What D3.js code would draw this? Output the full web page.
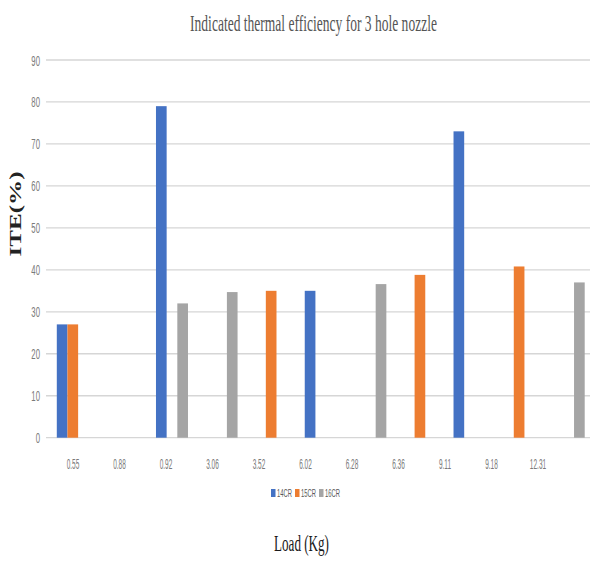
<!DOCTYPE html>
<html>
<head>
<meta charset="utf-8">
<script src="https://cdn.jsdelivr.net/npm/d3@7"></script>
<style>
  html, body { margin: 0; padding: 0; background: #fff; }
  svg { display: block; }
</style>
</head>
<body>
<svg id="chart" width="590" height="563"></svg>
<script>
// Load categories (kg) along the x axis
const loads = ["0.55", "0.88", "0.92", "3.06", "3.52", "6.02", "6.28", "6.36", "9.11", "9.18", "12.31"];
// Indicated thermal efficiency (%) per compression ratio; null = no measurement
const cr14 = [27, null, 79, null, null, 35, null, null, 73, null, null];
const cr15 = [27, null, null, null, 35, null, null, 38.8, null, 40.8, null];
const cr16 = [null, null, 32, 34.7, null, null, 36.6, null, null, null, 37];
const seriesNames = ["14CR", "15CR", "16CR"];
const seriesColors = ["#4472C4", "#ED7D31", "#A5A5A5"];
const yTicks = [0, 10, 20, 30, 40, 50, 60, 70, 80, 90];

const series = [cr14, cr15, cr16];
const svg = d3.select("#chart");

const y = d3.scaleLinear().domain([0, 90]).range([437.7, 60]);
// slot scale for the bar groups
const x0 = d3.scaleBand().domain(loads).range([48, 593.5]);
const x1 = d3.scaleBand().domain(seriesNames).range([0, 32]);
// scale used for the category labels
const xLab = d3.scaleBand().domain(loads).range([49.75, 561.25]);

// squeeze a text element horizontally to a target width
function fitWidth(sel, target) {
  sel.each(function () {
    const w = this.getComputedTextLength();
    const t = d3.select(this);
    const x = +t.attr("data-x"), yy = +t.attr("data-y");
    t.attr("x", 0).attr("y", 0)
     .attr("transform", `translate(${x},${yy}) scale(${target / w},1)`);
  });
}
function squeeze(sel, k) {
  sel.each(function () {
    const t = d3.select(this);
    const x = +t.attr("data-x"), yy = +t.attr("data-y");
    t.attr("x", 0).attr("y", 0)
     .attr("transform", `translate(${x},${yy}) scale(${k},1)`);
  });
}

// gridlines
svg.append("g")
  .selectAll("line")
  .data(yTicks)
  .join("line")
  .attr("x1", 46).attr("x2", 590)
  .attr("y1", d => y(d)).attr("y2", d => y(d))
  .attr("stroke", "#d6d6d6").attr("stroke-width", 1.3);

// y tick labels
svg.append("g")
  .selectAll("text")
  .data(yTicks)
  .join("text")
  .attr("data-x", 40).attr("data-y", d => y(d) + 5.5)
  .attr("text-anchor", "end")
  .attr("font-family", "Liberation Sans, Arial, sans-serif")
  .attr("font-size", 15.5)
  .attr("fill", "#7a7a7a")
  .text(d => d)
  .call(squeeze, 0.5);

// bars
const bars = [];
series.forEach((vals, si) => {
  vals.forEach((v, i) => {
    if (v != null) bars.push({ load: loads[i], s: seriesNames[si], v, c: seriesColors[si] });
  });
});
svg.append("g")
  .selectAll("rect")
  .data(bars)
  .join("rect")
  .attr("x", d => x0(d.load) + x0.bandwidth() / 2 - 16 + x1(d.s))
  .attr("width", x1.bandwidth())
  .attr("y", d => y(d.v))
  .attr("height", d => y(0) - y(d.v))
  .attr("fill", d => d.c);

// x category labels
svg.append("g")
  .selectAll("text")
  .data(loads)
  .join("text")
  .attr("data-x", d => xLab(d) + xLab.bandwidth() / 2).attr("data-y", 469)
  .attr("text-anchor", "middle")
  .attr("font-family", "Liberation Sans, Arial, sans-serif")
  .attr("font-size", 15.5)
  .attr("fill", "#7a7a7a")
  .text(d => d)
  .call(squeeze, 0.42);

// title
svg.append("text")
  .attr("data-x", 313.5).attr("data-y", 31)
  .attr("text-anchor", "middle")
  .attr("font-family", "Liberation Serif, Times New Roman, serif")
  .attr("font-size", 24)
  .attr("fill", "#555")
  .text("Indicated thermal efficiency for 3 hole nozzle")
  .call(fitWidth, 247);

// y axis title
const yt = svg.append("text")
  .attr("text-anchor", "middle")
  .attr("font-family", "Liberation Serif, Times New Roman, serif")
  .attr("font-weight", "bold")
  .attr("font-size", 16.5)
  .attr("fill", "#222")
  .text("ITE(%)");
{
  const w = yt.node().getComputedTextLength();
  yt.attr("transform", `translate(21,214) rotate(-90) scale(${85 / w},1)`);
}

// x axis title
svg.append("text")
  .attr("data-x", 301.5).attr("data-y", 551)
  .attr("text-anchor", "middle")
  .attr("font-family", "Liberation Serif, Times New Roman, serif")
  .attr("font-size", 24)
  .attr("fill", "#1a1a1a")
  .text("Load (Kg)")
  .call(fitWidth, 55);

// legend
const legend = svg.append("g");
seriesNames.forEach((name, i) => {
  const lx = 271 + i * 24;
  legend.append("rect")
    .attr("x", lx).attr("y", 489)
    .attr("width", 4.5).attr("height", 8)
    .attr("fill", seriesColors[i]);
  legend.append("text")
    .attr("data-x", lx + 6).attr("data-y", 497)
    .attr("font-family", "Liberation Sans, Arial, sans-serif")
    .attr("font-size", 11)
    .attr("fill", "#595959")
    .text(name)
    .call(fitWidth, 15);
});
</script>
</body>
</html>
